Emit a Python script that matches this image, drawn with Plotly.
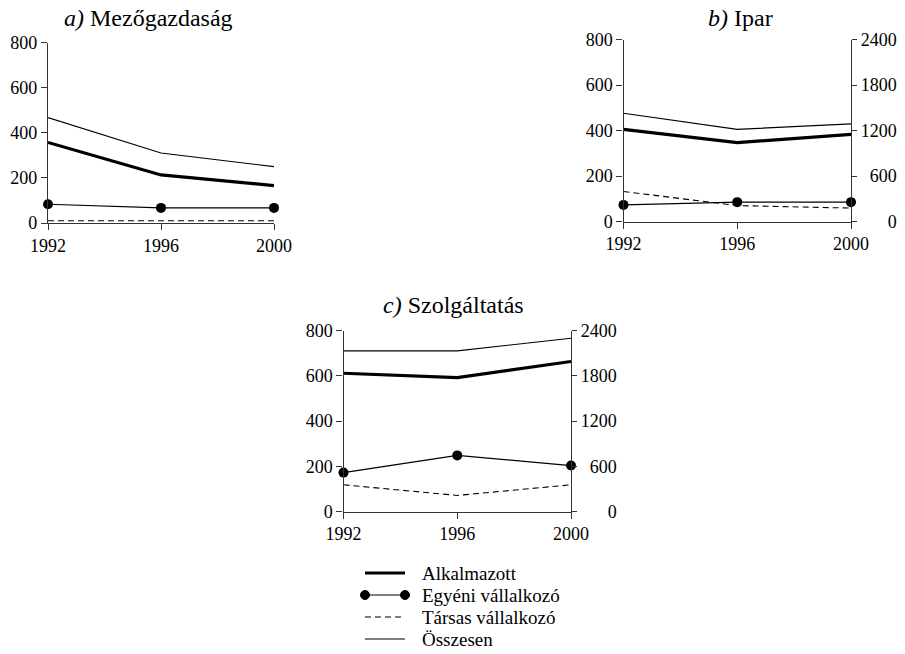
import plotly.graph_objects as go

years = [1992, 1996, 2000]

# a) Mezőgazdaság
a_alk = [357, 213, 166]
a_egy = [83, 67, 67]
a_tar = [10, 10, 10]
a_oss = [467, 310, 250]

# b) Ipar
b_alk = [405, 347, 383]
b_egy = [73, 85, 85]
b_tar = [132, 70, 59]
b_oss = [476, 405, 429]

# c) Szolgáltatás
c_alk = [611, 592, 663]
c_egy = [172, 248, 203]
c_tar = [118, 71, 118]
c_oss = [710, 710, 766]

series_names = ["Alkalmazott", "Egyéni vállalkozó", "Társas vállalkozó", "Összesen"]
left_ticks = [0, 200, 400, 600, 800]
right_ticks = [0, 600, 1200, 1800, 2400]
titles = ["<i>a)</i> Mezőgazdaság", "<i>b)</i> Ipar", "<i>c)</i> Szolgáltatás"]

W, H = 905, 654
FONT = "Liberation Serif"
AX = "#333333"

def px_x(p):
    return p / W

def px_y(p):
    return 1 - p / H

DASH = "6px,4px"
styles = [
    dict(mode="lines", line=dict(color="black", width=3.2)),
    dict(mode="lines+markers", line=dict(color="black", width=1.2),
         marker=dict(color="black", size=10, symbol="circle")),
    dict(mode="lines", line=dict(color="black", width=1.1, dash=DASH)),
    dict(mode="lines", line=dict(color="black", width=1.1)),
]

panels = [
    ("x", "y", [a_alk, a_egy, a_tar, a_oss]),
    ("x2", "y2", [b_alk, b_egy, b_tar, b_oss]),
    ("x3", "y3", [c_alk, c_egy, c_tar, c_oss]),
]

fig = go.Figure()
for pi, (xa, ya, data) in enumerate(panels):
    for si in [0, 1, 2, 3]:
        fig.add_trace(go.Scatter(
            x=years, y=data[si], xaxis=xa, yaxis=ya,
            name=series_names[si], showlegend=False, cliponaxis=False,
            **styles[si]))

# invisible helper traces so the right-hand (0-2400) axes are drawn
for xa, ya, oss in [("x2", "y4", b_oss), ("x3", "y5", c_oss)]:
    fig.add_trace(go.Scatter(
        x=years, y=[v * 3 for v in oss], xaxis=xa, yaxis=ya, mode="lines",
        line=dict(color="rgba(0,0,0,0)", width=0), showlegend=False,
        hoverinfo="skip"))

dom = {
    "a": dict(x=[48, 274], y=[223, 42.5]),
    "b": dict(x=[623.5, 851], y=[221.5, 39.5]),
    "c": dict(x=[343.5, 571], y=[511.5, 330.5]),
}

common = dict(ticks="outside", ticklen=6, tickcolor=AX, showline=True,
              linecolor=AX, linewidth=1.2, showgrid=False, zeroline=False,
              automargin=False,
              tickfont=dict(family=FONT, size=18, color="black"))

def xax(d, anchor):
    return dict(domain=[px_x(d["x"][0]), px_x(d["x"][1])], anchor=anchor,
                range=[1992, 2000], tickvals=years, **common)

def yax(d, anchor):
    return dict(domain=[px_y(d["y"][0]), px_y(d["y"][1])], anchor=anchor,
                range=[0, 800], tickvals=left_ticks, **common)

# right-aligned labels on the right axis (padded with en spaces = digit width)
right_text = ["\u2002" * (4 - len(str(v))) + str(v) for v in right_ticks]

def yright(d, anchor, overlay):
    c = dict(common)
    c["ticklen"] = 5
    return dict(domain=[px_y(d["y"][0]), px_y(d["y"][1])], anchor=anchor,
                overlaying=overlay, side="right",
                range=[0, 2400], tickvals=right_ticks, ticktext=right_text, **c)

fig.update_layout(
    width=W, height=H,
    margin=dict(l=0, r=0, t=0, b=0),
    paper_bgcolor="white", plot_bgcolor="white",
    font=dict(family=FONT, size=18, color="black"),
    xaxis=xax(dom["a"], "y"), yaxis=yax(dom["a"], "x"),
    xaxis2=xax(dom["b"], "y2"), yaxis2=yax(dom["b"], "x2"),
    xaxis3=xax(dom["c"], "y3"), yaxis3=yax(dom["c"], "x3"),
    yaxis4=yright(dom["b"], "x2", "y2"),
    yaxis5=yright(dom["c"], "x3", "y3"),
    showlegend=False,
)

title_pos = [(148, 18), (740, 18), (453, 305)]
for t, (tx, ty) in zip(titles, title_pos):
    fig.add_annotation(text=t, x=px_x(tx), y=px_y(ty), xref="paper", yref="paper",
                       showarrow=False, xanchor="center", yanchor="middle",
                       font=dict(family=FONT, size=24, color="black"))

# legend (key) built from shapes + text
lx0, lx1, ltx = 365, 405, 420
rows = [573, 595, 617, 639]
for i, name in enumerate(series_names):
    yy = px_y(rows[i])
    st = styles[i]
    dash = st["line"].get("dash", "solid")
    fig.add_shape(type="line", xref="paper", yref="paper",
                  x0=px_x(lx0), x1=px_x(lx1), y0=yy, y1=yy,
                  line=dict(color="black", width=st["line"]["width"], dash=dash))
    if "markers" in st["mode"]:
        for cx in (lx0, lx1):
            fig.add_shape(type="circle", xref="paper", yref="paper",
                          x0=px_x(cx - 4.5), x1=px_x(cx + 4.5),
                          y0=yy - 4.5 / H, y1=yy + 4.5 / H,
                          fillcolor="black", line=dict(color="black", width=1))
    fig.add_annotation(text=name, x=px_x(ltx), y=yy, xref="paper", yref="paper",
                       showarrow=False, xanchor="left", yanchor="middle",
                       font=dict(family=FONT, size=19, color="black"))

# the page's default 8px body margin would offset the figure; remove it
fig.write_html("out.html", config={"displayModeBar": False},
               post_script="document.body.style.margin='0';")
